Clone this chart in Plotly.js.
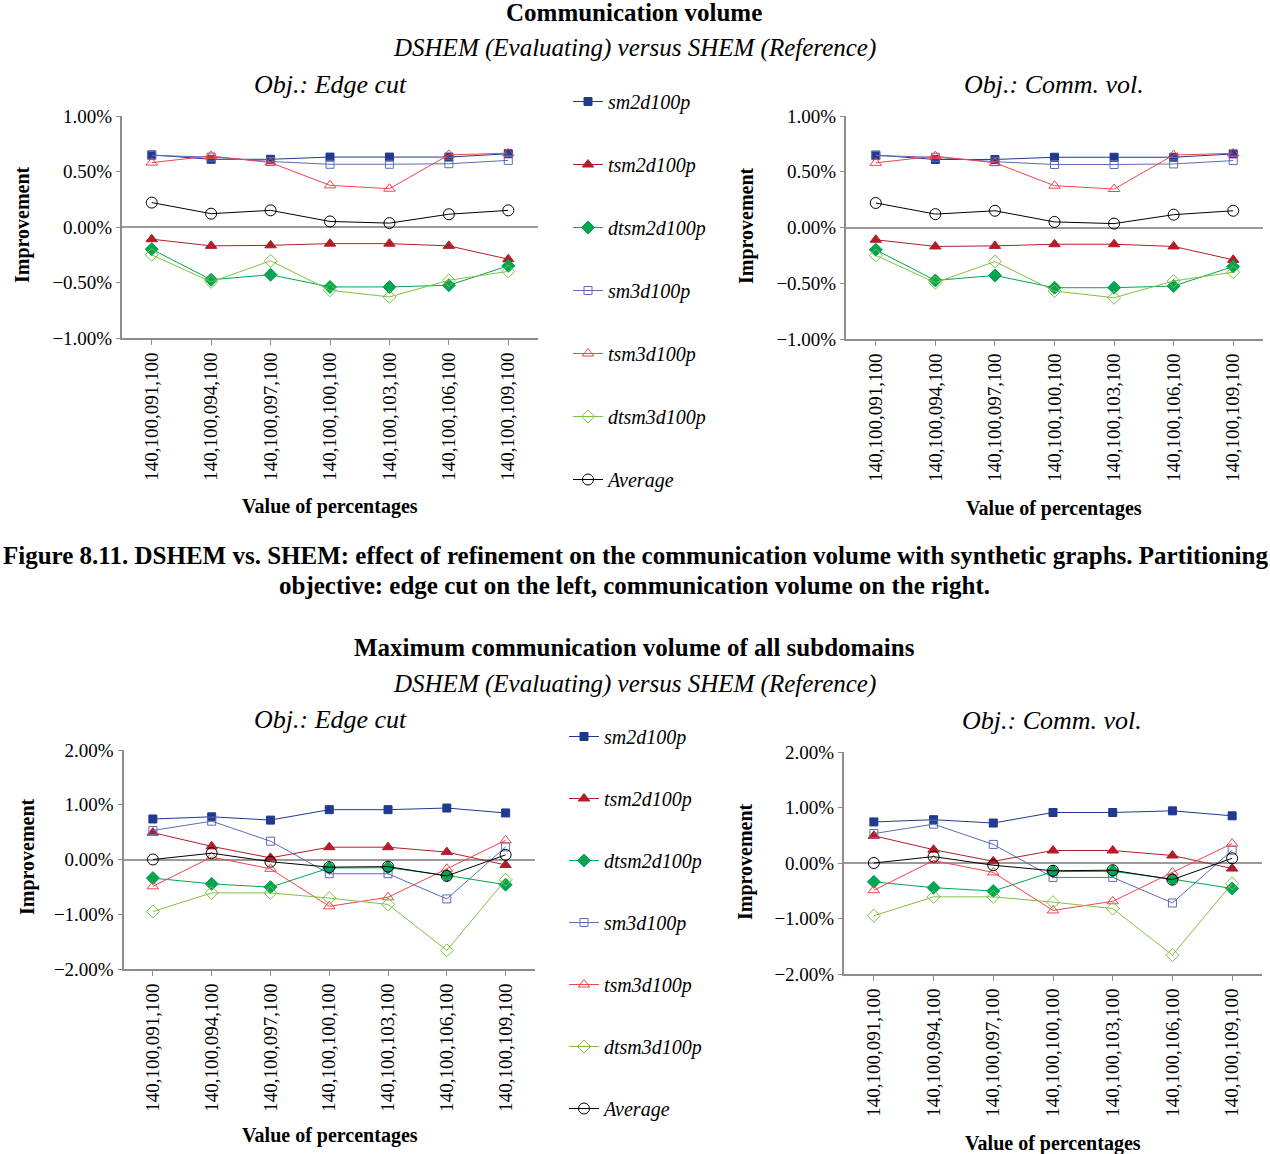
<!DOCTYPE html>
<html>
<head>
<meta charset="utf-8">
<script src="https://cdn.plot.ly/plotly-3.0.1.min.js"></script>
<style>html,body{margin:0;padding:0;background:#fff;}#chart{width:1270px;height:1154px;}</style>
</head>
<body>
<div id="chart"></div>
<script>
// ---- data ----
const categories = ["140,100,091,100","140,100,094,100","140,100,097,100","140,100,100,100","140,100,103,100","140,100,106,100","140,100,109,100"];
const seriesNames = ["sm2d100p","tsm2d100p","dtsm2d100p","sm3d100p","tsm3d100p","dtsm3d100p","Average"];

// Communication volume (values in %)
const cv_sm2d   = [0.65, 0.61, 0.61, 0.63, 0.63, 0.63, 0.66];
const cv_tsm2d  = [-0.11, -0.17, -0.165, -0.15, -0.15, -0.17, -0.29];
const cv_dtsm2d = [-0.20, -0.475, -0.43, -0.54, -0.54, -0.525, -0.35];
const cv_sm3d   = [0.645, 0.63, 0.59, 0.565, 0.565, 0.57, 0.60];
const cv_tsm3d  = [0.58, 0.64, 0.58, 0.375, 0.345, 0.65, 0.665];
const cv_dtsm3d = [-0.25, -0.495, -0.305, -0.57, -0.63, -0.48, -0.40];
const cv_avg    = [0.22, 0.12, 0.15, 0.05, 0.035, 0.115, 0.15];

// Maximum communication volume of all subdomains (values in %)
const mx_sm2d   = [0.74, 0.78, 0.72, 0.91, 0.91, 0.94, 0.85];
const mx_tsm2d  = [0.49, 0.24, 0.03, 0.225, 0.225, 0.135, -0.10];
const mx_dtsm2d = [-0.34, -0.445, -0.505, -0.155, -0.15, -0.29, -0.46];
const mx_sm3d   = [0.53, 0.70, 0.335, -0.26, -0.26, -0.72, 0.23];
const mx_tsm3d  = [-0.49, 0.045, -0.17, -0.855, -0.69, -0.17, 0.35];
const mx_dtsm3d = [-0.95, -0.61, -0.61, -0.705, -0.82, -1.66, -0.37];
const mx_avg    = [0.0, 0.115, -0.04, -0.14, -0.13, -0.30, 0.085];

const topTickVals = [1, 0.5, 0, -0.5, -1];
const topTickText = ["1.00%", "0.50%", "0.00%", "\u22120.50%", "\u22121.00%"];
const botTickVals = [2, 1, 0, -1, -2];
const botTickText = ["2.00%", "1.00%", "0.00%", "\u22121.00%", "\u22122.00%"];

// ---- styles ----
const styles = [
  {color:'#1F3A8F', symbol:'square', size:8},
  {color:'#B01E2A', symbol:'triangle-up', size:10},
  {color:'#00A651', symbol:'diamond', size:10},
  {color:'#5C6DB5', symbol:'square-open', size:8},
  {color:'#F2444C', symbol:'triangle-up-open', size:10},
  {color:'#7DC242', symbol:'diamond-open', size:10},
  {color:'#000000', symbol:'circle-open', size:11}
];

const W = 1270, H = 1154;
const px = v => v / W;
const py = v => 1 - v / H;
const FONT = 'Liberation Serif';

const cvSeries = [cv_sm2d, cv_tsm2d, cv_dtsm2d, cv_sm3d, cv_tsm3d, cv_dtsm3d, cv_avg];
const mxSeries = [mx_sm2d, mx_tsm2d, mx_dtsm2d, mx_sm3d, mx_tsm3d, mx_dtsm3d, mx_avg];

const traces = [];
function addSet(series, xa, ya, legendName, show) {
  series.forEach((vals, i) => {
    const s = styles[i];
    traces.push({
      type: 'scatter', mode: 'lines+markers',
      x: categories, y: vals, name: seriesNames[i],
      xaxis: xa, yaxis: ya,
      legend: legendName, legendgroup: legendName + i, showlegend: show,
      line: {color: s.color, width: 1},
      marker: {symbol: s.symbol, size: s.size, color: s.color, line: {color: s.color, width: 1}},
      cliponaxis: false
    });
  });
}
addSet(cvSeries, 'x', 'y', 'legend', true);
addSet(cvSeries, 'x2', 'y2', 'legend', false);
addSet(mxSeries, 'x3', 'y3', 'legend2', true);
addSet(mxSeries, 'x4', 'y4', 'legend2', false);

function xAxis(d0, d1, anchor) {
  return {
    domain: [px(d0), px(d1)], anchor: anchor, type: 'category',
    range: [-0.5, 6.5], showgrid: false, zeroline: false,
    showline: true, linecolor: '#8c8c8c', linewidth: 2,
    ticks: 'outside', ticklen: 5, tickcolor: '#8c8c8c', tickwidth: 1,
    tickangle: -90, tickfont: {family: FONT, size: 19, color: '#000'},
    fixedrange: true
  };
}
function yAxis(d0, d1, anchor, range, vals, text) {
  return {
    domain: [py(d1), py(d0)], anchor: anchor, range: range,
    showgrid: false, zeroline: true, zerolinecolor: '#9a9a9a', zerolinewidth: 2,
    showline: true, linecolor: '#8c8c8c', linewidth: 2,
    ticks: 'outside', ticklen: 4, tickcolor: '#8c8c8c', tickwidth: 1,
    tickvals: vals, ticktext: text,
    tickfont: {family: FONT, size: 19, color: '#000'},
    fixedrange: true
  };
}

function ann(text, x, y, size, extra) {
  return Object.assign({
    text: text, x: px(x), y: py(y), xref: 'paper', yref: 'paper',
    showarrow: false, xanchor: 'center', yanchor: 'middle',
    font: {family: FONT, size: size, color: '#000'}
  }, extra || {});
}

const annotations = [
  ann('<b>Communication volume</b>', 634, 12, 25),
  ann('<i>DSHEM (Evaluating) versus SHEM (Reference)</i>', 634, 48, 25),
  ann('<i>Obj.: Edge cut</i>', 330, 84, 26),
  ann('<i>Obj.: Comm. vol.</i>', 1054, 84, 26),
  ann('<b>Improvement</b>', 22, 225, 20, {textangle: -90}),
  ann('<b>Improvement</b>', 746, 226, 20, {textangle: -90}),
  ann('<b>Value of percentages</b>', 330, 506, 20),
  ann('<b>Value of percentages</b>', 1054, 508, 20),
  ann('<b>Figure 8.11. DSHEM vs. SHEM: effect of refinement on the communication volume with synthetic graphs. Partitioning</b>', 635, 556, 25),
  ann('<b>objective: edge cut on the left, communication volume on the right.</b>', 634, 585, 25),
  ann('<b>Maximum communication volume of all subdomains</b>', 634, 647, 25),
  ann('<i>DSHEM (Evaluating) versus SHEM (Reference)</i>', 634, 684, 25),
  ann('<i>Obj.: Edge cut</i>', 330, 719, 26),
  ann('<i>Obj.: Comm. vol.</i>', 1052, 721, 26),
  ann('<b>Improvement</b>', 27, 857, 20, {textangle: -90}),
  ann('<b>Improvement</b>', 745, 862, 20, {textangle: -90}),
  ann('<b>Value of percentages</b>', 330, 1135, 20),
  ann('<b>Value of percentages</b>', 1053, 1143, 20)
];

const layout = {
  width: W, height: H,
  margin: {l: 0, r: 0, t: 0, b: 0},
  paper_bgcolor: '#fff', plot_bgcolor: 'rgba(0,0,0,0)',
  showlegend: true,
  xaxis:  xAxis(122, 538, 'y'),
  yaxis:  yAxis(116, 338, 'x', [-1, 1], topTickVals, topTickText),
  xaxis2: xAxis(846, 1263, 'y2'),
  yaxis2: yAxis(116, 339, 'x2', [-1, 1], topTickVals, topTickText),
  xaxis3: xAxis(123.5, 535, 'y3'),
  yaxis3: yAxis(750, 969, 'x3', [-2, 2], botTickVals, botTickText),
  xaxis4: xAxis(844, 1262, 'y4'),
  yaxis4: yAxis(752, 974, 'x4', [-2, 2], botTickVals, botTickText),
  legend: {
    x: px(568), y: py(82), xanchor: 'left', yanchor: 'top',
    bgcolor: 'rgba(0,0,0,0)', tracegroupgap: 34,
    font: {family: FONT, size: 20, style: 'italic', color: '#000'}
  },
  legend2: {
    x: px(564), y: py(717), xanchor: 'left', yanchor: 'top',
    bgcolor: 'rgba(0,0,0,0)', tracegroupgap: 33,
    font: {family: FONT, size: 20, style: 'italic', color: '#000'}
  },
  annotations: annotations
};

Plotly.newPlot('chart', traces, layout, {displayModeBar: false, staticPlot: true});
</script>
</body>
</html>
